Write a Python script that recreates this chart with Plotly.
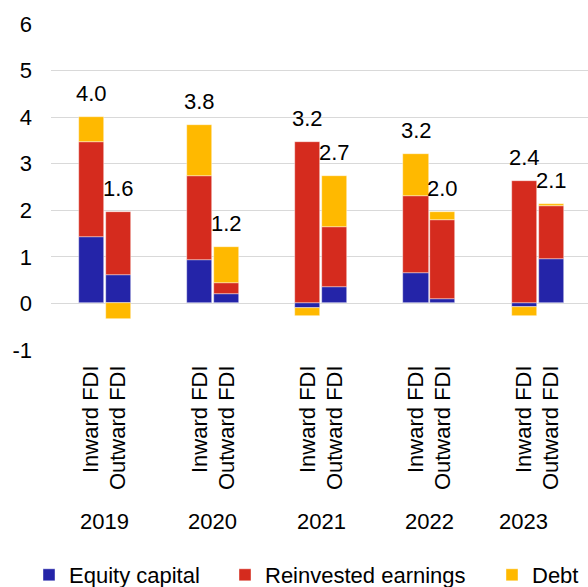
import plotly.graph_objects as go

# Categories
years = ["2019", "2020", "2021", "2022", "2023"]
flows = ["Inward FDI", "Outward FDI"]

# Components per bar, ordered: 2019 inward, 2019 outward, 2020 inward, ...
equity_capital = [1.43, 0.60, 0.93, 0.21, -0.10, 0.35, 0.65, 0.10, -0.07, 0.95]
reinvested_earnings = [2.03, 1.37, 1.80, 0.23, 3.47, 1.30, 1.65, 1.69, 2.63, 1.14]
debt = [0.55, -0.33, 1.10, 0.78, -0.16, 1.09, 0.90, 0.18, -0.20, 0.05]

y_ticks = [-1, 0, 1, 2, 3, 4, 5, 6]
y_tick_text = ["-1", "0", "1", "2", "3", "4", "5", "6"]

# Layout / style settings
FONT = "Liberation Sans, Arial, Helvetica, sans-serif"
W, H = 588, 587
M_L, M_R, M_T, M_B = 51, 0, 24, 237
BAR_OFFSET = 0.124      # half-distance between the inward and outward bar of a year
BAR_WIDTH = 0.232
COLORS = {"Equity capital": "#2424A8",
          "Reinvested earnings": "#D52B1E",
          "Debt": "#FFB900"}
LEGEND_TEXT_X = [65, 261, 528]   # container pixels where each legend label starts
LEGEND_Y = 575                   # container pixel of the legend row's middle
YEAR_SHIFT = [0, 0, 0, 0, -14]

x_pos = [i + off for i in range(len(years)) for off in (-BAR_OFFSET, BAR_OFFSET)]
x_text = [f for _ in years for f in flows]

series = [("Equity capital", equity_capital),
          ("Reinvested earnings", reinvested_earnings),
          ("Debt", debt)]

fig = go.Figure()
legend_ids = ["legend", "legend2", "legend3"]
for (name, vals), lid in zip(series, legend_ids):
    fig.add_trace(go.Bar(
        x=x_pos, y=vals, name=name, width=BAR_WIDTH,
        marker=dict(color=COLORS[name],
                    line=dict(color="rgba(255,255,255,0.7)", width=0.6)),
        legend=lid, hoverinfo="name+y",
    ))

# Totals written above the positive part of each stack
annotations = []
for k, x in enumerate(x_pos):
    comps = [equity_capital[k], reinvested_earnings[k], debt[k]]
    total = sum(comps)
    top = sum(v for v in comps if v > 0)
    annotations.append(dict(
        x=x, y=top, xref="x", yref="y", text=f"{total:.1f}",
        showarrow=False, yanchor="bottom", yshift=9,
        font=dict(family=FONT, size=22, color="#000000"),
    ))

# Year labels under each pair of bars
for i, yr in enumerate(years):
    annotations.append(dict(
        x=i, y=0, xref="x", yref="paper", text=yr, showarrow=False,
        yanchor="middle", yshift=-171, xshift=YEAR_SHIFT[i],
        font=dict(family=FONT, size=22, color="#000000"),
    ))

plot_w = W - M_L - M_R
x_left = -0.496
x_right = x_left + plot_w / 108.25

layout_legends = {}
for lid, tx in zip(legend_ids, LEGEND_TEXT_X):
    layout_legends[lid] = dict(
        orientation="h", xref="container", yref="container",
        x=(tx - 36) / W, xanchor="left",
        y=1 - LEGEND_Y / H, yanchor="middle",
        font=dict(family=FONT, size=22, color="#000000"),
        bgcolor="rgba(0,0,0,0)", borderwidth=0,
    )

fig.update_layout(
    width=W, height=H,
    margin=dict(l=M_L, r=M_R, t=M_T, b=M_B, pad=0, autoexpand=False),
    paper_bgcolor="white", plot_bgcolor="white",
    barmode="relative", bargap=0,
    font=dict(family=FONT, size=22, color="#000000"),
    annotations=annotations,
    showlegend=True,
    **layout_legends,
)

fig.update_xaxes(
    range=[x_left, x_right], tickmode="array", tickvals=x_pos, ticktext=x_text,
    tickangle=-90, showgrid=False, zeroline=False, showline=False, ticks="",
    tickfont=dict(family=FONT, size=22, color="#000000"),
    ticklabelstandoff=10,
)
fig.update_yaxes(
    range=[-1, 6], tickmode="array", tickvals=y_ticks, ticktext=y_tick_text,
    showgrid=True, gridcolor="#D9D9D9", gridwidth=1,
    zeroline=False, showline=False, ticks="",
    tickfont=dict(family=FONT, size=22, color="#000000"),
    ticklabelstandoff=18,
)

fig.write_html("out.html")
